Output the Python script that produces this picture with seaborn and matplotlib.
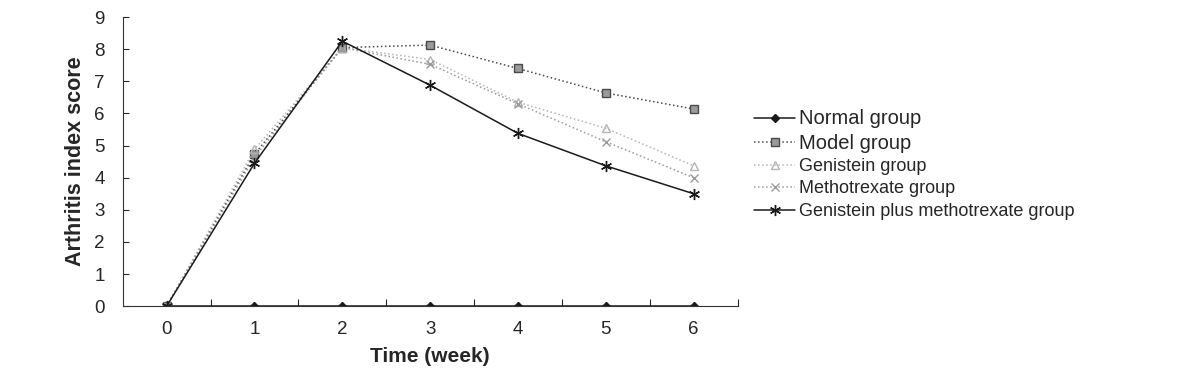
import numpy as np
import pandas as pd
import matplotlib.pyplot as plt
import seaborn as sns

weeks = [0, 1, 2, 3, 4, 5, 6]
normal = [0, 0, 0, 0, 0, 0, 0]
model = [0, 4.73, 8.05, 8.13, 7.40, 6.64, 6.14]
genistein = [0, 4.88, 8.05, 7.68, 6.35, 5.54, 4.37]
methotrexate = [0, 4.63, 8.05, 7.53, 6.30, 5.12, 4.00]
combo = [0, 4.45, 8.25, 6.88, 5.38, 4.37, 3.50]

groups = ["Normal group", "Model group", "Genistein group",
          "Methotrexate group", "Genistein plus methotrexate group"]
series = [normal, model, genistein, methotrexate, combo]

rows = []
for g, vals in zip(groups, series):
    for w, v in zip(weeks, vals):
        rows.append({"week": w, "score": v, "group": g})
df = pd.DataFrame(rows)

sns.set_theme(style="ticks")
plt.rcParams["font.family"] = ["Liberation Sans", "DejaVu Sans"]

styles = {
    "Normal group": dict(color="#1a1a1a", marker="D", ls="-", ms=4.5, mfc="#1a1a1a"),
    "Model group": dict(color="#4a4a4a", marker="s", ls=":", ms=5.5, mfc="#9a9a9a"),
    "Genistein group": dict(color="#b5b5b5", marker="^", ls=":", ms=5.5, mfc="none"),
    "Methotrexate group": dict(color="#9a9a9a", marker="x", ls=":", ms=6, mfc="none"),
    "Genistein plus methotrexate group": dict(color="#1a1a1a", marker=(6, 2, 0), ls="-", ms=8, mfc="none"),
}

fig = plt.figure(figsize=(11.8, 3.72), dpi=100)
ax = fig.add_axes([0.104, 0.177, 0.521, 0.777])

for g in groups:
    st = styles[g]
    sns.lineplot(data=df[df["group"] == g], x="week", y="score", ax=ax,
                 label=g, color=st["color"], marker=st["marker"],
                 linestyle=st["ls"], markersize=st["ms"],
                 markerfacecolor=st["mfc"], markeredgecolor=st["color"],
                 markeredgewidth=1.0, linewidth=1.1)

ax.set_xlim(-0.5, 6.5)
ax.set_ylim(0, 9)
ax.set_xticks(weeks)
ax.set_xticks(np.arange(0.5, 6.6, 1), minor=True)
ax.tick_params(axis="x", which="major", length=0, labelsize=13.5, pad=11)
ax.tick_params(axis="x", which="minor", direction="in", length=5, width=0.8)
ax.set_yticks(range(0, 10))
ax.tick_params(axis="y", direction="in", length=4, width=0.8, labelsize=13.5, pad=13)
for s in ["top", "right"]:
    ax.spines[s].set_visible(False)
for s in ["left", "bottom"]:
    ax.spines[s].set_linewidth(0.8)
    ax.spines[s].set_color("#333333")

ax.set_xlabel("Time (week)", fontsize=15, fontweight="bold", labelpad=6)
ax.set_ylabel("Arthritis index score", fontsize=15.5, fontweight="bold", labelpad=6)

leg = ax.legend(loc="center left", bbox_to_anchor=(1.0, 0.49), frameon=False,
                fontsize=13, handlelength=2.3, labelspacing=0.3,
                handletextpad=0.2)
for i, t in enumerate(leg.get_texts()):
    if i < 2:
        t.set_fontsize(14.5)

fig.savefig("out.png", dpi=100)
